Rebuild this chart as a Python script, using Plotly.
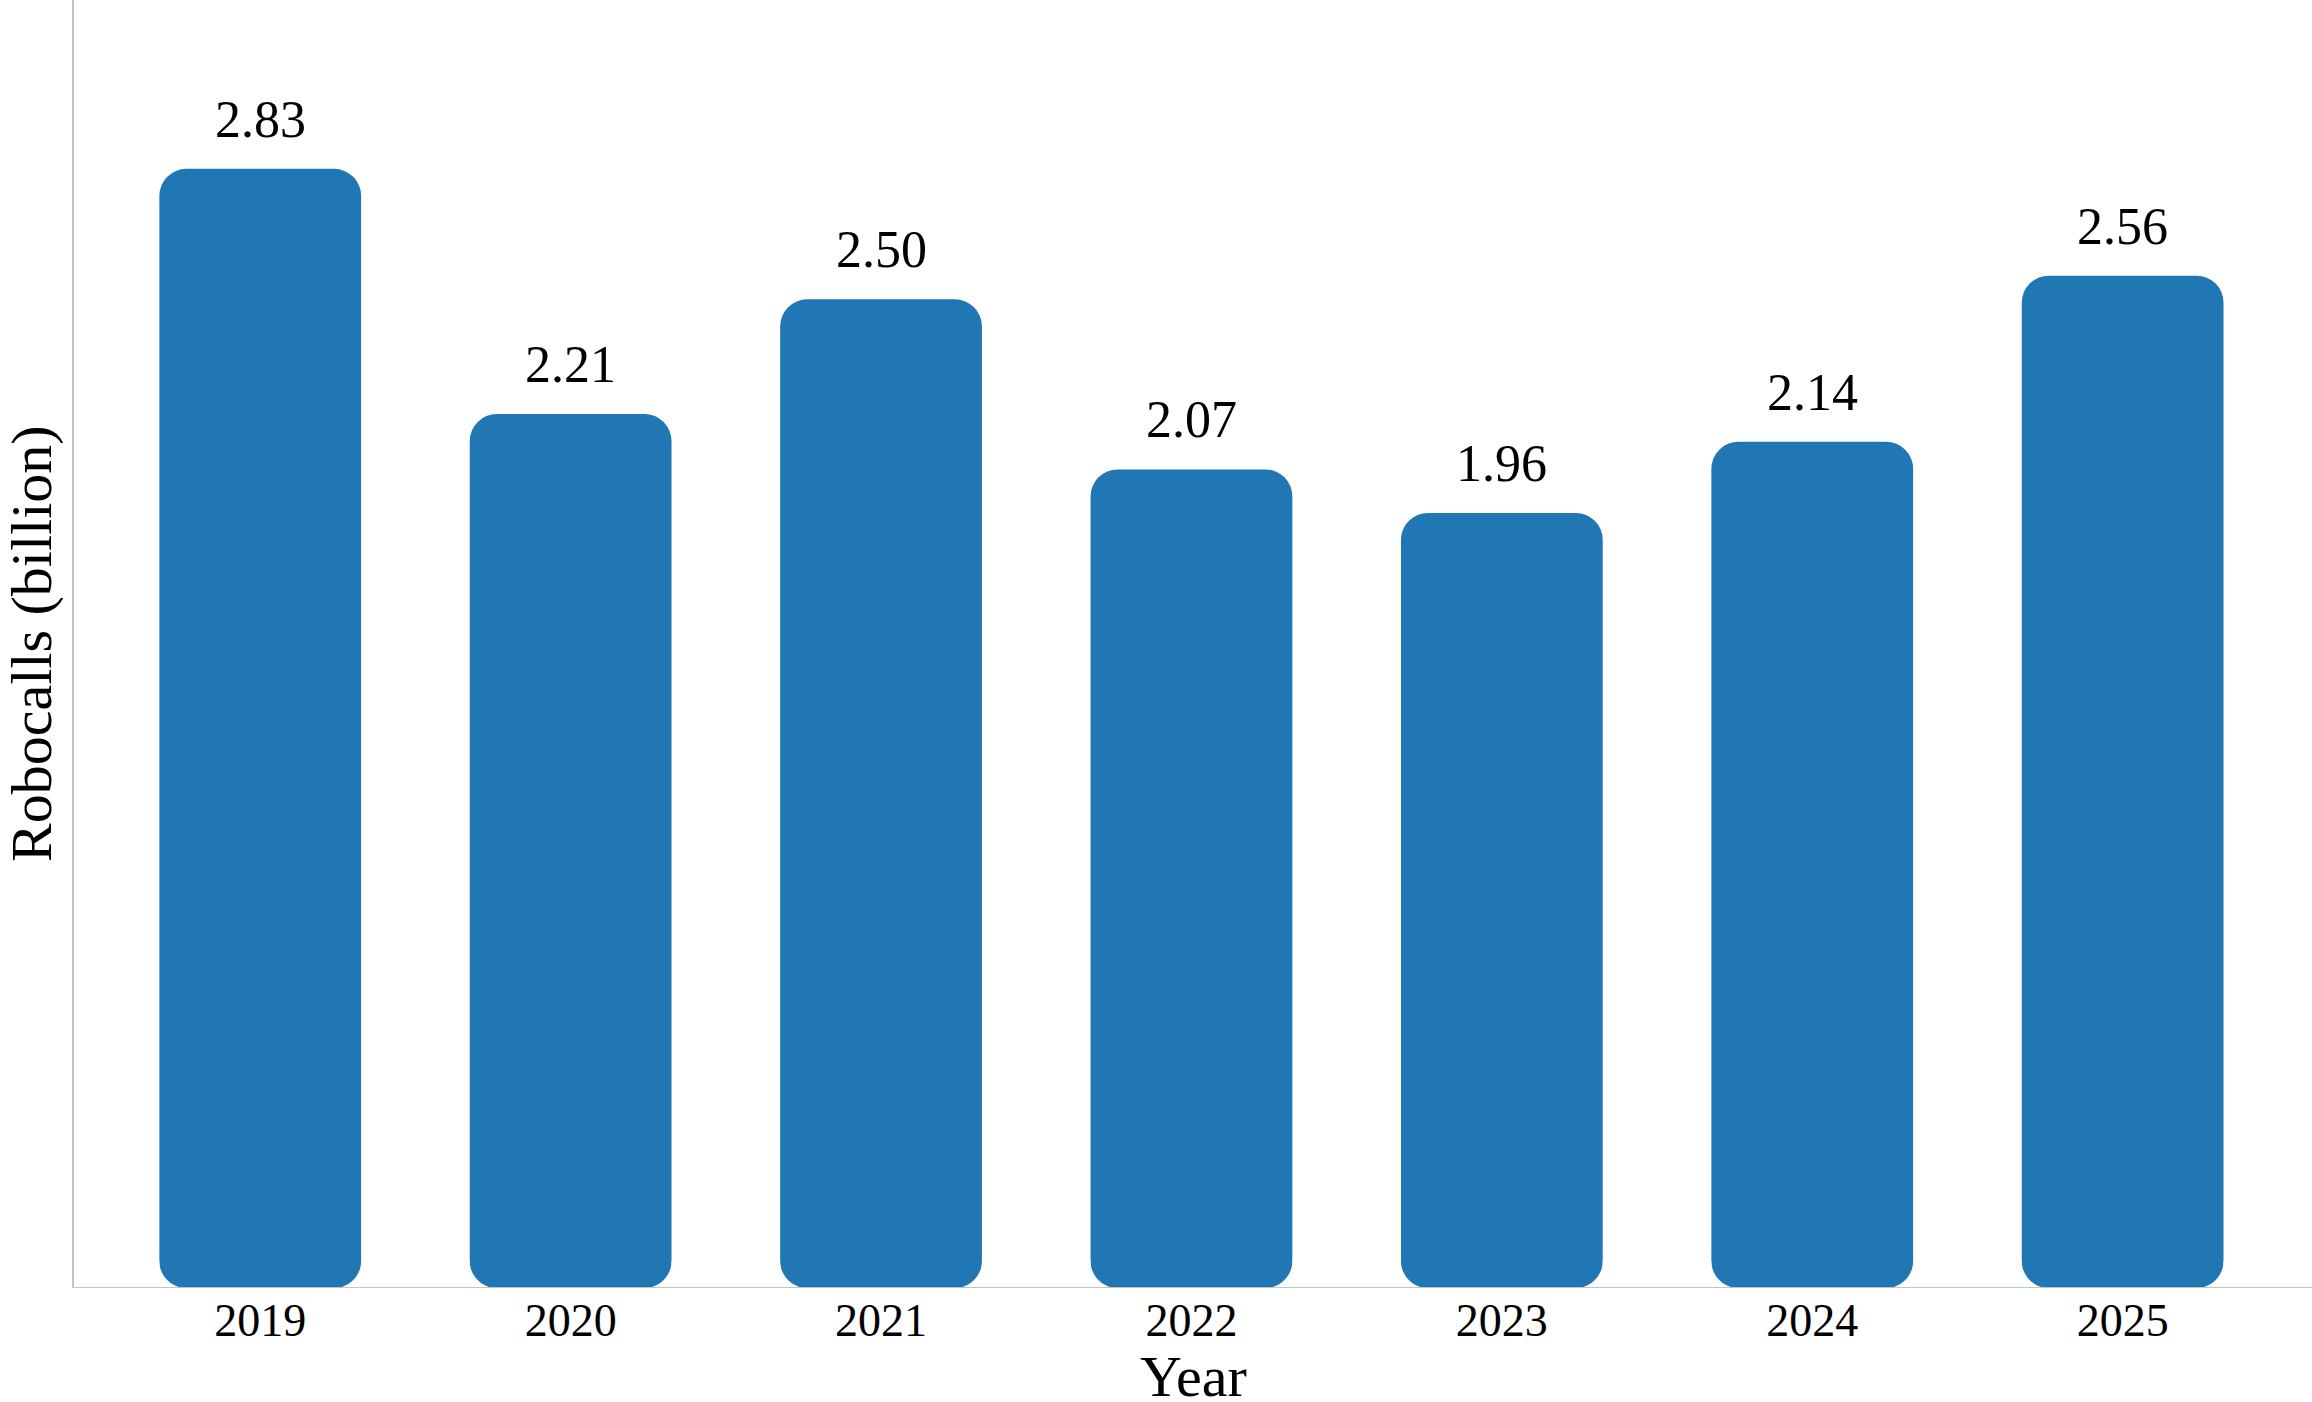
import plotly.graph_objects as go

years = ["2019", "2020", "2021", "2022", "2023", "2024", "2025"]
robocalls = [2.83, 2.21, 2.50, 2.07, 1.96, 2.14, 2.56]
value_labels = ["2.83", "2.21", "2.50", "2.07", "1.96", "2.14", "2.56"]

BAR_COLOR = "#2077b4"
AXIS_COLOR = "#c4c4c4"
FONT = "Liberation Serif, DejaVu Serif, serif"
BAR_WIDTH = 0.65
RADIUS = 27

fig = go.Figure()
fig.add_trace(go.Bar(
    x=list(range(len(years))),
    y=robocalls,
    width=BAR_WIDTH,
    marker=dict(color=BAR_COLOR, line=dict(width=0), cornerradius=RADIUS),
    hoverinfo="skip",
))

# value annotations above bars
for i, (v, lab) in enumerate(zip(robocalls, value_labels)):
    fig.add_annotation(x=i, y=v, text=lab, showarrow=False, yanchor="bottom",
                       yshift=19, font=dict(family=FONT, size=52, color="black"))

# round the bottom corners with white masks (pixel-sized, anchored on bars)
k = 0.5523 * RADIUS
for i in range(len(years)):
    for side in (-1, 1):
        r = RADIUS * (-side)  # inward direction
        c = k * (-side)
        path = (f"M {side * 2},-4 L {r},-4 L {r},0 C {r - c},0 0,{RADIUS - k} 0,{RADIUS} "
                f"L {side * 2},{RADIUS} Z")
        fig.add_shape(type="path", xref="x", yref="y", xsizemode="pixel", ysizemode="pixel",
                      xanchor=i + side * BAR_WIDTH / 2, yanchor=0, path=path,
                      fillcolor="white", line=dict(width=0), layer="above")

# bottom axis line drawn over bars and masks
fig.add_shape(type="line", xref="paper", yref="y", x0=0, x1=1, y0=0, y1=0,
              line=dict(color=AXIS_COLOR, width=2), layer="above")

# axis titles
fig.add_annotation(text="Robocalls (billion)", xref="paper", yref="paper", x=0, y=0.5,
                   xanchor="center", yanchor="middle", xshift=-43, textangle=-90,
                   showarrow=False, font=dict(family=FONT, size=58, color="black"))
fig.add_annotation(text="Year", xref="paper", yref="paper", x=0.5, y=0,
                   xanchor="center", yanchor="middle", yshift=-88,
                   showarrow=False, font=dict(family=FONT, size=58, color="black"))

fig.update_layout(
    width=2312, height=1402,
    margin=dict(l=74, r=0, t=0, b=114),
    plot_bgcolor="white", paper_bgcolor="white",
    showlegend=False,
    font=dict(family=FONT, color="black"),
)
fig.update_xaxes(
    tickmode="array", tickvals=list(range(len(years))), ticktext=years,
    range=[-0.6, 6.61], automargin=False,
    showline=False,
    showgrid=False, zeroline=False, ticks="", ticklabelstandoff=1,
    tickfont=dict(family=FONT, size=46, color="black"),
)
fig.update_yaxes(
    range=[0, 3.257], automargin=False,
    showline=True, linecolor=AXIS_COLOR, linewidth=2,
    showgrid=False, zeroline=False, showticklabels=False, ticks="",
)

fig.write_html("out.html")
